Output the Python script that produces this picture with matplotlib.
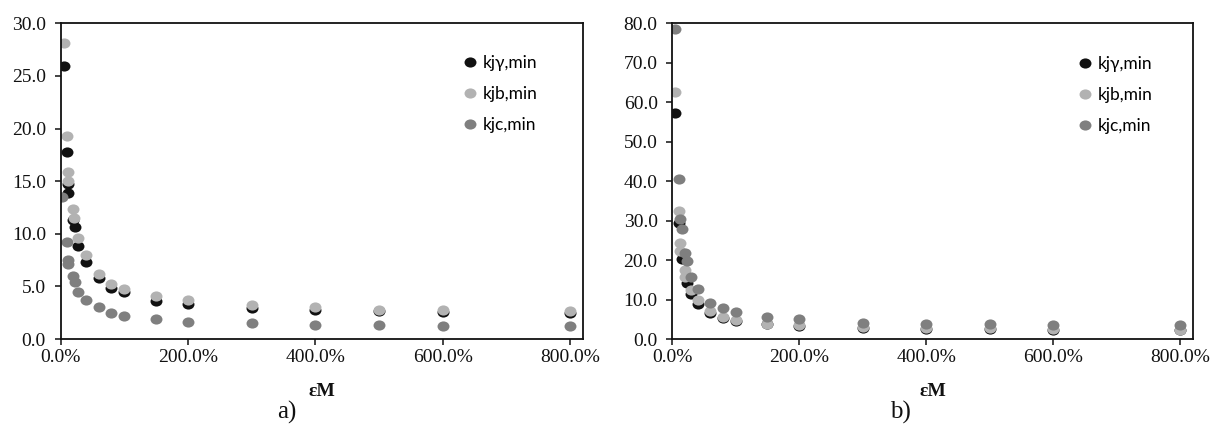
import matplotlib
matplotlib.use("Agg")
import matplotlib.pyplot as plt
from matplotlib.path import Path
from matplotlib.ticker import FuncFormatter, MultipleLocator

# ---------------- data (εM as fraction) ----------------
# panel a)
a_g_x = [0.05, 0.10, 0.125, 0.125, 0.20, 0.225, 0.28, 0.40, 0.60, 0.80, 1.00, 1.5, 2.0, 3.0, 4.0, 5.0, 6.0, 8.0]
a_g_y = [25.9, 17.8, 14.7, 13.9, 11.3, 10.6, 8.8, 7.3, 5.8, 4.84, 4.43, 3.58, 3.32, 2.94, 2.78, 2.65, 2.53, 2.47]
a_b_x = [0.05, 0.10, 0.125, 0.125, 0.20, 0.21, 0.28, 0.40, 0.60, 0.80, 1.00, 1.5, 2.0, 3.0, 4.0, 5.0, 6.0, 8.0]
a_b_y = [28.1, 19.3, 15.9, 15.0, 12.4, 11.5, 9.6, 8.0, 6.2, 5.25, 4.75, 4.05, 3.67, 3.26, 3.0, 2.8, 2.78, 2.69]
a_c_x = [0.03, 0.10, 0.125, 0.125, 0.20, 0.225, 0.28, 0.40, 0.60, 0.80, 1.00, 1.5, 2.0, 3.0, 4.0, 5.0, 6.0, 8.0]
a_c_y = [13.5, 9.2, 7.5, 7.15, 5.95, 5.4, 4.43, 3.75, 3.0, 2.45, 2.15, 1.9, 1.65, 1.52, 1.33, 1.33, 1.2, 1.2]

# panel b)
b_g_x = [0.05, 0.10, 0.15, 0.225, 0.30, 0.40, 0.60, 0.80, 1.00, 1.5, 2.0, 3.0, 4.0, 5.0, 6.0, 8.0]
b_g_y = [57.2, 29.5, 20.3, 14.3, 11.3, 8.8, 6.5, 5.3, 4.6, 3.7, 3.4, 2.9, 2.6, 2.6, 2.4, 2.2]
b_b_x = [0.05, 0.10, 0.125, 0.125, 0.20, 0.20, 0.30, 0.40, 0.60, 0.80, 1.00, 1.5, 2.0, 3.0, 4.0, 5.0, 6.0, 8.0]
b_b_y = [62.7, 32.4, 24.4, 22.3, 17.5, 15.6, 12.4, 10.0, 7.1, 5.6, 4.8, 3.8, 3.5, 3.0, 2.7, 2.7, 2.5, 2.3]
b_c_x = [0.05, 0.10, 0.125, 0.15, 0.20, 0.225, 0.30, 0.40, 0.60, 0.80, 1.00, 1.5, 2.0, 3.0, 4.0, 5.0, 6.0, 8.0]
b_c_y = [78.5, 40.5, 30.5, 27.8, 21.9, 19.7, 15.8, 12.6, 9.2, 7.9, 6.75, 5.7, 5.0, 4.1, 3.8, 3.8, 3.5, 3.5]

labels = ["kjγ,min", "kjb,min", "kjc,min"]
colors = ["#111111", "#b2b2b2", "#7f7f7f"]

# ---------------- style ----------------
circ = Path.unit_circle()
ell = Path(circ.vertices * [1.0, 0.85], circ.codes)

W, H = 1211, 425
fig = plt.figure(figsize=(W / 100, H / 100), dpi=100)

serif = "Liberation Serif"
sans = "Lato"


def fx(px):
    return px / W


def fy(py):
    return 1 - py / H


def make_panel(rect, series, ymax, ystep, leg_xy):
    ax = fig.add_axes(rect)
    for (xs, ys), lab, col in zip(series, labels, colors):
        ax.plot(xs, ys, linestyle="none", marker=ell, markersize=8.6,
                color=col, markeredgewidth=0, label=lab)
    ax.set_xlim(0, 8.2)
    ax.set_ylim(0, ymax)
    ax.xaxis.set_major_locator(MultipleLocator(2))
    ax.yaxis.set_major_locator(MultipleLocator(ystep))
    ax.xaxis.set_major_formatter(FuncFormatter(lambda v, p: f"{v*100:.1f}%"))
    ax.yaxis.set_major_formatter(FuncFormatter(lambda v, p: f"{v:.1f}"))
    ax.tick_params(direction="out", length=4.5, width=1.1, colors="#111111",
                   labelsize=14)
    ax.tick_params(axis="y", pad=6)
    ax.tick_params(axis="x", pad=3)
    for lbl in ax.get_xticklabels() + ax.get_yticklabels():
        lbl.set_fontfamily(serif)
    for s in ax.spines.values():
        s.set_linewidth(1.3)
        s.set_color("#111111")
    ax.legend(loc="upper left", bbox_to_anchor=leg_xy,
              bbox_transform=fig.transFigure, frameon=False,
              handlelength=0.8, handletextpad=0.35, borderpad=0,
              borderaxespad=0, labelspacing=0.87, numpoints=1,
              prop={"family": sans, "size": 12.5})
    return ax


ax1 = make_panel([fx(60.5), fy(339), fx(582.8) - fx(60.5), fy(23.3) - fy(339)],
                 [(a_g_x, a_g_y), (a_b_x, a_b_y), (a_c_x, a_c_y)],
                 30, 5, (fx(463), fy(55)))
ax2 = make_panel([fx(672.3), fy(339), fx(1192.7) - fx(672.3), fy(23.3) - fy(339)],
                 [(b_g_x, b_g_y), (b_b_x, b_b_y), (b_c_x, b_c_y)],
                 80, 10, (fx(1078), fy(56)))

for cx in (321.6, 932.5):
    fig.text(fx(cx), fy(391), "εM", family=serif, weight="bold", fontsize=14,
             ha="center", va="center", color="#111111")
fig.text(fx(287), fy(412), "a)", family=serif, fontsize=18, ha="center",
         va="center", color="#111111")
fig.text(fx(900), fy(412), "b)", family=serif, fontsize=18, ha="center",
         va="center", color="#111111")

fig.savefig("out.png", dpi=100)
